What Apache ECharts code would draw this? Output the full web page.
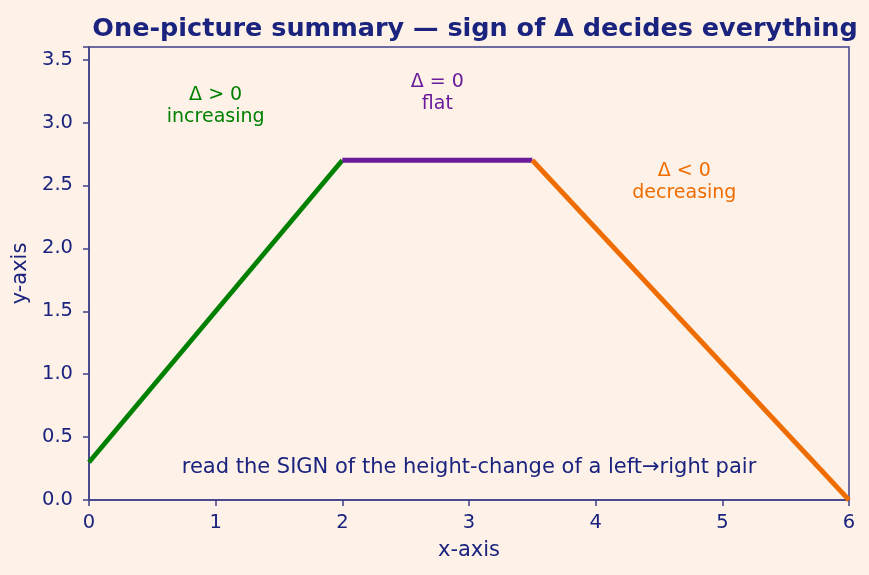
<!DOCTYPE html>
<html>
<head>
<meta charset="utf-8">
<script src="https://cdn.jsdelivr.net/npm/echarts@6/dist/echarts.min.js"></script>
<style>
  html, body { margin: 0; padding: 0; background: #fef2e8; }
  #chart { width: 869px; height: 575px; }
</style>
</head>
<body>
<div id="chart"></div>
<script>
// segments of the piecewise path: [x, y] pairs
const risingPts = [[0, 0.3], [2, 2.7]]
const flatPts = [[2, 2.7], [3.5, 2.7]]
const fallingPts = [[3.5, 2.7], [6, 0]]

// text labels placed in data coordinates
const notes = [
  { name: 'Δ > 0\nincreasing', at: [1.0, 3.13], color: '#008000' },
  { name: 'Δ = 0\nflat', at: [2.75, 3.23], color: '#6a1b9a' },
  { name: 'Δ < 0\ndecreasing', at: [4.7, 2.53], color: '#ef6c00' },
]
const footNote = { name: 'read the SIGN of the height-change of a left→right pair', at: [3.0, 0.26] }

const xTicks = [0, 1, 2, 3, 4, 5, 6]
const yTicks = [0, 0.5, 1, 1.5, 2, 2.5, 3, 3.5]

const ink = '#1a237e'
const frame = '#3f3f88'
const font = '"DejaVu Sans", sans-serif'

const chart = echarts.init(document.getElementById('chart'))

const seg = (data, color) => ({
  type: 'line',
  data,
  symbol: 'none',
  lineStyle: { width: 4.8, color, cap: 'butt' },
  z: 3,
})

const textSeries = (items, size, lh) => ({
  type: 'scatter',
  symbolSize: 0,
  silent: true,
  z: 5,
  itemStyle: { opacity: 1 },
  data: items.map((n) => ({
    name: n.name,
    value: n.at,
    label: {
      show: true, position: 'inside', formatter: '{b}',
      color: n.color || ink, fontSize: size, lineHeight: lh, align: 'center', fontFamily: font,
    },
  })),
})

chart.setOption({
  backgroundColor: '#fef2e8',
  animation: false,
  textStyle: { fontFamily: font },
  title: {
    text: 'One-picture summary — sign of Δ decides everything',
    left: 470,
    textAlign: 'center',
    top: 11,
    textStyle: { color: ink, fontSize: 25.5, fontWeight: 'bold', fontFamily: font },
  },
  grid: {
    left: 89, right: 20, top: 47, bottom: 75,
    show: true, borderColor: frame, borderWidth: 1.5, backgroundColor: 'transparent',
  },
  xAxis: {
    type: 'value',
    min: 0, max: 6, interval: 1,
    name: 'x-axis', nameLocation: 'middle', nameGap: 40,
    nameTextStyle: { color: ink, fontSize: 21, fontFamily: font },
    axisLine: { show: true, lineStyle: { color: frame, width: 1.5 } },
    axisTick: { show: true, length: 6, inside: false, lineStyle: { color: frame, width: 1.5 } },
    axisLabel: {
      color: ink, fontSize: 19.5, fontFamily: font, margin: 13,
      formatter: (v) => (xTicks.includes(v) ? String(v) : ''),
    },
    splitLine: { show: false },
  },
  yAxis: {
    type: 'value',
    min: 0, max: 3.6, interval: 0.5,
    name: 'y-axis', nameLocation: 'middle', nameGap: 55,
    nameTextStyle: { color: ink, fontSize: 21, fontFamily: font },
    axisLine: { show: true, lineStyle: { color: frame, width: 1.5 } },
    axisTick: { show: true, length: 6, inside: false, lineStyle: { color: frame, width: 1.5 } },
    axisLabel: {
      color: ink, fontSize: 19.5, fontFamily: font, margin: 16,
      formatter: (v) => (yTicks.includes(v) ? v.toFixed(1) : ''),
    },
    splitLine: { show: false },
  },
  series: [
    seg(risingPts, '#008000'),
    seg(flatPts, '#6a1b9a'),
    seg(fallingPts, '#ef6c00'),
    textSeries(notes, 19, 22),
    textSeries([footNote], 21, 24),
  ],
})
</script>
</body>
</html>
